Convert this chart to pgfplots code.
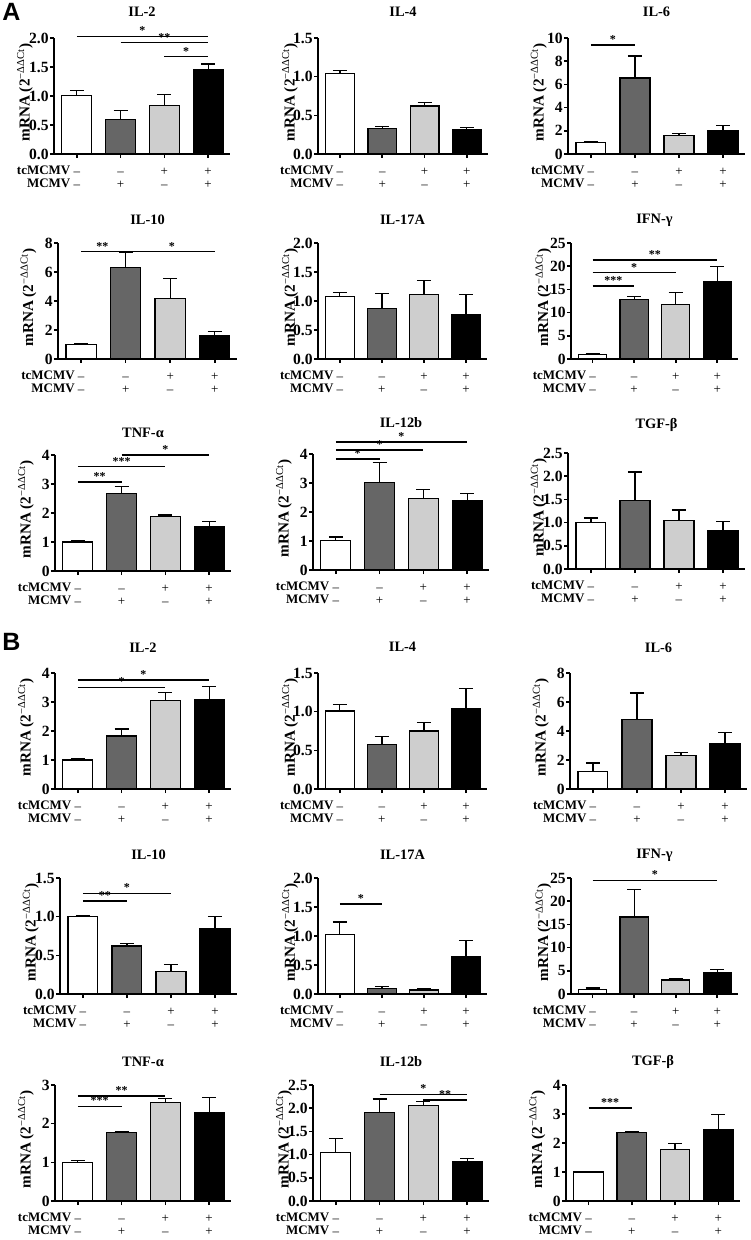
\documentclass[border=0pt]{standalone}
\usepackage{fontspec}
\setmainfont{Liberation Serif}
\newfontfamily\arialfont{Liberation Sans}
\usepackage{pgfplots}
\pgfplotsset{compat=1.18}

\definecolor{dgray}{RGB}{102,102,102}
\definecolor{lgray}{RGB}{206,206,206}

\pgfplotsset{
  pos/.style n args={3}{at={(#1*0.5pt,-#2*0.5pt)}, anchor=south west, width=#3*0.5pt, height=116*0.5pt},
  ttl/.style={title style={at={(axis description cs:0.5,1)}, anchor=center, yshift=#1*0.5pt-6pt}},
  dec/.style={yticklabel style={/pgf/number format/.cd, fixed, fixed zerofill, precision=1}},
  cyto/.style={
    scale only axis, ybar, bar width=0.68, bar shift=0pt,
    xmin=-0.52, xmax=3.5, ymin=0,
    axis lines=left, axis line style={-, line width=1pt, black},
    xtick={0,1,2,3},
    xticklabels={{\strut–\\\strut–},{\strut–\\\strut+},{\strut+\\\strut–},{\strut+\\\strut+}},
    xticklabel style={align=center, font=\fontsize{6.5}{6.5}\selectfont, inner sep=0pt, anchor=north, yshift=-4pt},
    tick align=outside, major tick length=2pt,
    tick style={line width=0.8pt, black},
    /pgf/number format/assume math mode=true,
    yticklabel style={font=\fontsize{7.8}{8}\selectfont\bfseries, inner sep=0.5pt},
    title style={font=\fontsize{7.2}{8}\selectfont\bfseries},
    ylabel={mRNA (2\textsuperscript{\mdseries −ΔΔCt})},
    ylabel style={font=\fontsize{7.6}{8}\selectfont\bfseries, at={(axis description cs:-0.165,0.53)}, anchor=center},
    clip=false,
    error bars/y dir=plus, error bars/y explicit,
    error bars/error bar style={line width=0.6pt, black},
    error bars/error mark options={line width=0.6pt, black, mark size=3.5pt, rotate=90},
    every axis plot/.append style={draw=black, line width=0.6pt},
  }
}

\newcommand\bars[8]{%
  \addplot[fill=white] coordinates {(0,#1) +- (0,#2)};
  \addplot[fill=dgray] coordinates {(1,#3) +- (0,#4)};
  \addplot[fill=lgray] coordinates {(2,#5) +- (0,#6)};
  \addplot[fill=black] coordinates {(3,#7) +- (0,#8)};
  \node[anchor=north east, align=right, inner sep=0pt, font=\fontsize{6.5}{6.5}\selectfont\bfseries]
    at ([xshift=-3pt, yshift=-5.5pt]axis cs:0,0) {\strut tcMCMV\\\strut MCMV};
}
\newcommand\sig[4]{%
  \draw[line width=0.75pt] (axis cs:#1,#3) -- (axis cs:#2,#3)
    node[midway, above, inner sep=0.4pt, font=\fontsize{6}{6}\selectfont\bfseries] {#4};
}

\begin{document}
\begin{tikzpicture}
\useasboundingbox (0,0) rectangle (375pt,-620pt);
\node[anchor=north west, inner sep=0pt, font=\arialfont\bfseries\fontsize{12.5}{12.5}\selectfont] at (1pt,-1.5pt) {A};
\node[anchor=north west, inner sep=0pt, font=\arialfont\bfseries\fontsize{12.5}{12.5}\selectfont] at (1pt,-316.5pt) {B};

% ===== A row 1 =====
\begin{axis}[cyto, pos={54}{154}{176}, ttl=26, title={IL-2}, dec, ymax=2, ytick={0,0.5,1,1.5,2}]
\bars{1.01}{0.08}{0.59}{0.16}{0.83}{0.20}{1.46}{0.09}
\sig{0}{3}{2.03}{*}\sig{1}{3}{1.92}{**}\sig{2}{3}{1.68}{*}
\end{axis}
\begin{axis}[cyto, pos={318}{154}{170}, ttl=26, title={IL-4}, dec, ymax=1.5, ytick={0,0.5,1,1.5}]
\bars{1.04}{0.04}{0.33}{0.03}{0.62}{0.05}{0.32}{0.02}
\end{axis}
\begin{axis}[cyto, pos={568}{154}{177}, ttl=26, title={IL-6}, ymax=10, ytick={0,2,4,6,8,10}]
\bars{1.0}{0.1}{6.55}{1.9}{1.6}{0.2}{2.05}{0.4}
\sig{0}{1}{9.4}{*}
\end{axis}

% ===== A row 2 =====
\begin{axis}[cyto, pos={58}{359}{179}, ttl=23, title={IL-10}, ymax=8, ytick={0,2,4,6,8}]
\bars{1.0}{0.06}{6.32}{1.06}{4.16}{1.38}{1.6}{0.3}
\sig{0}{0.95}{7.4}{**}\sig{1.08}{3}{7.4}{*}
\end{axis}
\begin{axis}[cyto, pos={318}{359}{169}, ttl=23, title={IL-17A}, dec, ymax=2, ytick={0,0.5,1,1.5,2}]
\bars{1.08}{0.07}{0.87}{0.26}{1.11}{0.25}{0.76}{0.35}
\end{axis}
\begin{axis}[cyto, pos={571}{359}{167}, ttl=23, title={IFN-γ}, ymax=25, ytick={0,5,10,15,20,25}]
\bars{1.0}{0.1}{12.8}{0.7}{11.7}{2.7}{16.6}{3.3}
\sig{0}{3}{21.3}{**}\sig{0}{2}{18.6}{*}\sig{0}{1}{15.7}{***}
\end{axis}

% ===== A row 3 =====
\begin{axis}[cyto, pos={55}{571}{176}, ttl=22, title={TNF-α}, ymax=4, ytick={0,1,2,3,4}]
\bars{1.0}{0.05}{2.66}{0.26}{1.88}{0.05}{1.53}{0.18}
\sig{1}{3}{4.0}{*}\sig{0}{2}{3.6}{***}\sig{0}{1}{3.07}{**}
\end{axis}
\begin{axis}[cyto, pos={313}{570}{176}, ttl=31, title={IL-12b}, ymax=4, ytick={0,1,2,3,4}]
\bars{1.02}{0.12}{3.02}{0.7}{2.47}{0.31}{2.38}{0.25}
\sig{0}{3}{4.42}{*}\sig{0}{2}{4.14}{*}\sig{0}{1}{3.83}{*}
\end{axis}
\begin{axis}[cyto, pos={568}{569}{177}, ttl=28, title={TGF-β}, dec, ymax=2.5, ytick={0,0.5,1,1.5,2,2.5}]
\bars{1.0}{0.1}{1.47}{0.62}{1.04}{0.23}{0.83}{0.2}
\end{axis}

% ===== B row 1 =====
\begin{axis}[cyto, pos={55}{789}{176}, ttl=25, title={IL-2}, ymax=4, ytick={0,1,2,3,4}]
\bars{1.0}{0.05}{1.83}{0.24}{3.04}{0.28}{3.07}{0.46}
\sig{0}{3}{3.76}{*}\sig{0}{2}{3.5}{*}
\end{axis}
\begin{axis}[cyto, pos={318}{789}{169}, ttl=26, title={IL-4}, dec, ymax=1.5, ytick={0,0.5,1,1.5}]
\bars{1.01}{0.08}{0.58}{0.1}{0.75}{0.11}{1.04}{0.26}
\end{axis}
\begin{axis}[cyto, pos={570}{789}{177}, ttl=25, title={IL-6}, ymax=8, ytick={0,2,4,6,8}]
\bars{1.2}{0.6}{4.78}{1.84}{2.32}{0.21}{3.13}{0.77}
\end{axis}

% ===== B row 2 =====
\begin{axis}[cyto, pos={60}{994}{177}, ttl=23, title={IL-10}, dec, ymax=1.5, ytick={0,0.5,1,1.5}]
\bars{1.0}{0.01}{0.62}{0.03}{0.29}{0.09}{0.85}{0.15}
\sig{0}{2}{1.3}{*}\sig{0}{1}{1.2}{**}
\end{axis}
\begin{axis}[cyto, pos={318}{994}{169}, ttl=23, title={IL-17A}, dec, ymax=2, ytick={0,0.5,1,1.5,2}]
\bars{1.03}{0.21}{0.1}{0.03}{0.07}{0.03}{0.65}{0.27}
\sig{0}{1}{1.55}{*}
\end{axis}
\begin{axis}[cyto, pos={571}{994}{167}, ttl=23, title={IFN-γ}, ymax=25, ytick={0,5,10,15,20,25}]
\bars{1.0}{0.3}{16.6}{6.0}{3.0}{0.3}{4.6}{0.7}
\sig{0}{3}{24.5}{*}
\end{axis}

% ===== B row 3 =====
\begin{axis}[cyto, pos={55}{1201}{176}, ttl=23, title={TNF-α}, ymax=3, ytick={0,1,2,3}]
\bars{1.0}{0.05}{1.78}{0.02}{2.55}{0.1}{2.28}{0.4}
\sig{0}{2}{2.72}{**}\sig{0}{1}{2.45}{***}
\end{axis}
\begin{axis}[cyto, pos={313}{1201}{176}, ttl=23, title={IL-12b}, dec, ymax=2.5, ytick={0,0.5,1,1.5,2,2.5}]
\bars{1.05}{0.3}{1.9}{0.3}{2.05}{0.1}{0.86}{0.06}
\sig{1}{3}{2.3}{*}\sig{2}{3}{2.18}{**}
\end{axis}
\begin{axis}[cyto, pos={566}{1201}{174}, ttl=23, title={TGF-β}, ymax=4, ytick={0,1,2,3,4}]
\bars{1.0}{0.0}{2.35}{0.05}{1.78}{0.19}{2.45}{0.53}
\sig{0}{1}{3.2}{***}
\end{axis}
\end{tikzpicture}
\end{document}
